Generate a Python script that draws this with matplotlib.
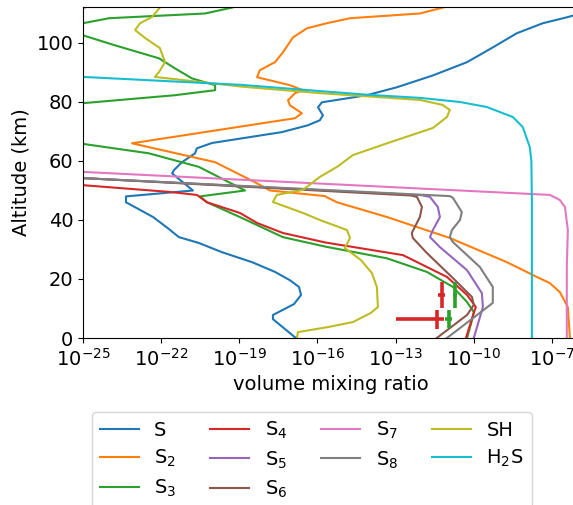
import numpy as np
import matplotlib.pyplot as plt

# altitude (km) and log10 of the volume mixing ratio
s_alt = [0, 6.4, 7.8, 11.5, 14.6, 17.3, 19.6, 22.4, 25.7, 29.1, 32.2, 34.2, 37.2, 41, 44, 46, 48, 50,
         55.8, 56.9, 59.6, 62.6, 64.3, 66.1, 69.8, 72.1, 73.8, 75.5, 78.2, 79.9, 82.3, 85, 89, 93.5,
         98.5, 103.3, 106.7, 108.7, 110.5, 113]
s_log = [-16.83, -17.71, -17.71, -16.90, -16.63, -16.71, -17.06, -17.63, -18.51, -19.67, -20.55, -21.32,
         -21.74, -22.31, -22.93, -23.35, -23.35, -20.78, -21.58, -21.51, -21.20, -20.70, -20.63, -20.05,
         -17.36, -16.37, -15.91, -15.79, -15.98, -15.83, -14.10, -12.95, -11.57, -10.26, -9.27, -8.35,
         -7.35, -6.43, -5.7, -5.0]

s2_alt = [0, 10.5, 15.6, 18.6, 20.7, 25.7, 33.9, 41, 46, 47.7, 48.1, 50, 52.8, 59.6, 66, 74.5, 76.2,
          78.9, 80.6, 83, 84, 85.7, 88.4, 90.8, 93.5, 96.8, 101.9, 105, 106.7, 108.4, 110, 112, 113]
s2_log = [-6.31, -6.39, -6.70, -7.08, -7.58, -8.73, -10.92, -13.33, -15.25, -15.64, -15.71, -17.82,
          -18.40, -19.93, -23.12, -16.86, -16.60, -17.06, -17.13, -16.86, -16.56, -17.06, -18.32, -18.21,
          -17.63, -17.33, -16.94, -16.40, -15.64, -14.75, -12.07, -11.19, -10.8]

s3_alt = [0, 6, 8.8, 12.2, 17.3, 22.4, 27, 31, 34.2, 41, 46, 48, 50, 58, 62.6, 65.8, 70, 76, 79.6,
          82.3, 84, 85.7, 88, 91.4, 94.8, 99.2, 102.6, 104, 106, 106.7, 108.4, 110, 112, 113]
s3_log = [-10.26, -10.07, -10.0, -10.26, -10.80, -11.80, -13.33, -15.71, -17.33, -18.98, -20.24, -20.51,
          -18.78, -20.55, -22.47, -25.0, -28, -28, -25.0, -21.47, -19.93, -19.93, -20.82, -21.47, -22.08,
          -23.77, -25.0, -27, -27, -25.0, -24.0, -20.32, -19.28, -18.9]

s4_alt = [0, 8.5, 10.5, 14.6, 20.7, 28.1, 32.4, 35.6, 39, 42.4, 46, 48.5, 49.5, 51.8, 52.5, 108, 111.5, 113]
s4_log = [-10.30, -10.0, -9.92, -10.26, -11.03, -12.72, -15.71, -17.33, -18.32, -18.98, -20.24, -20.63,
          -21.66, -25.0, -26.5, -30, -25.2, -24.5]

s5_alt = [0, 10.5, 15.2, 23, 30.8, 34.2, 36.6, 41, 44.4, 47.8, 48.4, 54.2, 54.7]
s5_log = [-10.0, -9.65, -9.69, -10.26, -11.30, -11.68, -11.57, -11.30, -11.38, -11.68, -12.0, -25.0, -26]

s6_alt = [0, 7.8, 11.2, 13.9, 20.3, 28.8, 33.9, 35.6, 41, 44.4, 47.8, 48.3, 54.2, 54.7]
s6_log = [-11.42, -10.26, -10.0, -10.07, -10.80, -11.80, -12.34, -12.38, -12.07, -11.99, -12.18, -12.4,
          -25.0, -26]

s7_alt = [0, 24.1, 36.6, 44.4, 46.8, 48.5, 56.3, 56.7]
s7_log = [-6.43, -6.43, -6.39, -6.50, -6.70, -7.08, -25.0, -26]

s8_alt = [0, 8.5, 11.9, 17.3, 24.1, 32.5, 34.2, 36.6, 40, 42.7, 47.5, 48.1, 54.2, 54.7]
s8_log = [-11.03, -9.77, -9.27, -9.27, -9.77, -10.80, -10.92, -10.84, -10.53, -10.46, -10.80, -10.92,
          -25.0, -26]

sh_alt = [0, 2.0, 3.7, 5.4, 8.5, 10.5, 17.3, 22, 26.4, 30.5, 33.9, 36.6, 40, 42.4, 46.1, 48.5, 50.2,
          54.6, 58, 62, 66, 71.2, 74.9, 77.3, 79, 80.7, 83, 85.2, 88.5, 90.2, 93.5, 98.3, 101.7, 104.4,
          106.7, 108.8, 112, 113]
sh_log = [-16.79, -16.75, -15.6, -14.64, -13.95, -13.68, -13.72, -13.91, -14.33, -14.95, -14.75, -14.87,
          -15.91, -16.56, -17.71, -17.56, -16.56, -15.91, -15.25, -14.64, -13.33, -11.57, -11.03, -10.92,
          -11.19, -12.07, -15.91, -18.9, -22.24, -22.08, -21.85, -22.05, -22.62, -23.0, -22.81, -22.35,
          -22.05, -21.9]

h2s_alt = [0, 46.8, 60, 64.7, 71.5, 74.9, 78.3, 80, 81.4, 82.4, 83.7, 85.8, 88.5, 89.2]
h2s_log = [-7.77, -7.77, -7.79, -7.85, -8.12, -8.50, -9.50, -10.53, -12.07, -13.99, -15.91, -18.9, -25.0, -27]

labels = ['S', r'$\mathregular{S_2}$', r'$\mathregular{S_3}$', r'$\mathregular{S_4}$',
          r'$\mathregular{S_5}$', r'$\mathregular{S_6}$', r'$\mathregular{S_7}$',
          r'$\mathregular{S_8}$', 'SH', r'$\mathregular{H_2S}$']

# observations (value, x error, altitude, altitude error)
obs_s4_x = [3.8e-12, 6.0e-12]
obs_s4_xerr = [3.7e-12, 1.8e-12]
obs_s4_alt = [6.4, 14.6]
obs_s4_yerr = [3.2, 4.3]
obs_s3_x = [1.1e-11, 1.9e-11]
obs_s3_xerr = [3.0e-12, 3.3e-12]
obs_s3_alt = [6.4, 14.6]
obs_s3_yerr = [3.1, 4.4]

plt.rcParams['font.size'] = 14

fig = plt.figure(figsize=(5.73, 5.05), dpi=100)
ax = fig.add_axes([83 / 573, 1 - 338 / 505, 495 / 573, 331 / 505])

profiles = [(s_log, s_alt), (s2_log, s2_alt), (s3_log, s3_alt), (s4_log, s4_alt),
            (s5_log, s5_alt), (s6_log, s6_alt), (s7_log, s7_alt), (s8_log, s8_alt),
            (sh_log, sh_alt), (h2s_log, h2s_alt)]
for i, (lg, alt) in enumerate(profiles):
    ax.plot(10.0 ** np.array(lg), alt, color='C%d' % i, lw=1.5, label=labels[i])

ax.errorbar(obs_s4_x, obs_s4_alt, xerr=obs_s4_xerr, yerr=obs_s4_yerr, fmt='none',
            ecolor='C3', elinewidth=2.6)
ax.errorbar(obs_s3_x, obs_s3_alt, xerr=obs_s3_xerr, yerr=obs_s3_yerr, fmt='none',
            ecolor='C2', elinewidth=2.6)

ax.set_xscale('log')
ax.set_xlim(1e-25, 1e-6)
ax.set_ylim(0, 112.2)
ax.set_xticks([1e-25, 1e-22, 1e-19, 1e-16, 1e-13, 1e-10, 1e-7])
ax.xaxis.set_minor_locator(plt.NullLocator())
ax.set_yticks([0, 20, 40, 60, 80, 100])
ax.set_xlabel('volume mixing ratio')
ax.set_ylabel('Altitude (km)')

fig.legend(loc='upper left', bbox_to_anchor=(92 / 573, 1 - 412 / 505), borderaxespad=0,
           ncol=4, fontsize=14, labelspacing=0.42, columnspacing=1.75)

fig.savefig('out.png', dpi=100)
